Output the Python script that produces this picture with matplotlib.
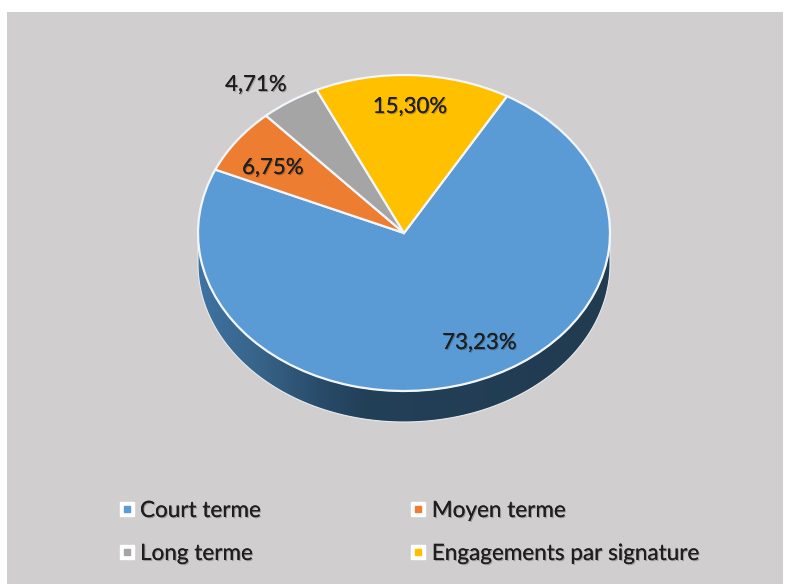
import numpy as np
import matplotlib
matplotlib.use("Agg")
import matplotlib.pyplot as plt
import matplotlib.patheffects as pe
from matplotlib.colors import LinearSegmentedColormap
from matplotlib.legend_handler import HandlerTuple
from matplotlib.lines import Line2D
from matplotlib.patches import Polygon, Rectangle

categories = ["Court terme", "Moyen terme", "Long terme", "Engagements par signature"]
values = [73.23, 6.75, 4.71, 15.30]
colors = ["#5B9BD5", "#ED7D31", "#A5A5A5", "#FFC000"]
value_labels = ["73,23%", "6,75%", "4,71%", "15,30%"]

W, H = 788, 584
plt.rcParams["font.family"] = ["Lato", "DejaVu Sans"]

fig = plt.figure(figsize=(W / 100, H / 100), dpi=100, facecolor="white")

# -------------------------------
# PANEL
# -------------------------------
fig.add_artist(Rectangle((7 / W, 0), 776 / W, 1 - 12 / H, transform=fig.transFigure,
                         facecolor="#D0CECE", edgecolor="none", zorder=-1))

# -------------------------------
# PIE (squashed axes gives the tilt)
# -------------------------------
cx, cy, rx, ry = 404, 233, 206, 158
depth = 31 / ry
lim = 1.4
ax = fig.add_axes([(cx - lim * rx) / W, 1 - (cy + lim * ry) / H, 2 * lim * rx / W, 2 * lim * ry / H])
ax.patch.set_visible(False)

ax.pie(values, colors=colors, startangle=60, counterclock=False, radius=1,
       wedgeprops={"edgecolor": "#F2F6FA", "linewidth": 1.6})

# side wall under the pie
t = np.linspace(np.pi, 2 * np.pi, 200)
top = np.column_stack([np.cos(t), np.sin(t)])
bottom = np.column_stack([np.cos(t), np.sin(t) - depth])
wall = Polygon(np.vstack([bottom, top[::-1]]), closed=True, facecolor="none",
               edgecolor="#E8EBEE", linewidth=0.8, zorder=0.5)
ax.add_patch(wall)
wall_cmap = LinearSegmentedColormap.from_list(
    "wall", [(0, "#3F73A3"), (0.15, "#376388"), (0.3, "#294B69"), (0.4, "#234059"), (1, "#213B50")])
grad = ax.imshow(np.linspace(0, 1, 256)[None, :], cmap=wall_cmap, extent=(-1, 1, -1.3, 0),
                 aspect="auto", zorder=0.4)
grad.set_clip_path(wall)
ax.set_aspect("auto")
ax.set_xlim(-lim, lim)
ax.set_ylim(-lim, lim)

# -------------------------------
# VALUE LABELS
# -------------------------------
label_px = [(479.5, 343), (273, 168), (256, 85), (410, 107)]
shadow = [pe.withSimplePatchShadow(offset=(0.8, -0.8), shadow_rgbFace="#000000", alpha=0.25), pe.Normal()]
for text, (px, py) in zip(value_labels, label_px):
    fig.text(px / W, 1 - py / H, text, ha="center", va="center", fontsize=16,
             color="#1E1E1E", path_effects=shadow)

# -------------------------------
# LEGEND
# -------------------------------
handles = []
for c in colors:
    halo = Line2D([], [], linestyle="none", marker="s", markersize=10.5, color="white")
    dot = Line2D([], [], linestyle="none", marker="s", markersize=5, color=c)
    handles.append((halo, dot))

order = [0, 2, 1, 3]
leg = fig.legend([handles[i] for i in order], [categories[i] for i in order],
                 handler_map={tuple: HandlerTuple(ndivide=1, pad=0)},
                 ncol=2, frameon=False, fontsize=16.2, loc="upper left",
                 bbox_to_anchor=(113 / W, 1 - 501 / H), borderpad=0, borderaxespad=0,
                 handlelength=1.2, handletextpad=0.0, columnspacing=6.38, labelspacing=1.02,
                 labelcolor="#1E1E1E")
for text in leg.get_texts():
    text.set_path_effects(shadow)

fig.savefig("out.png", dpi=100, facecolor="white")
plt.close(fig)
